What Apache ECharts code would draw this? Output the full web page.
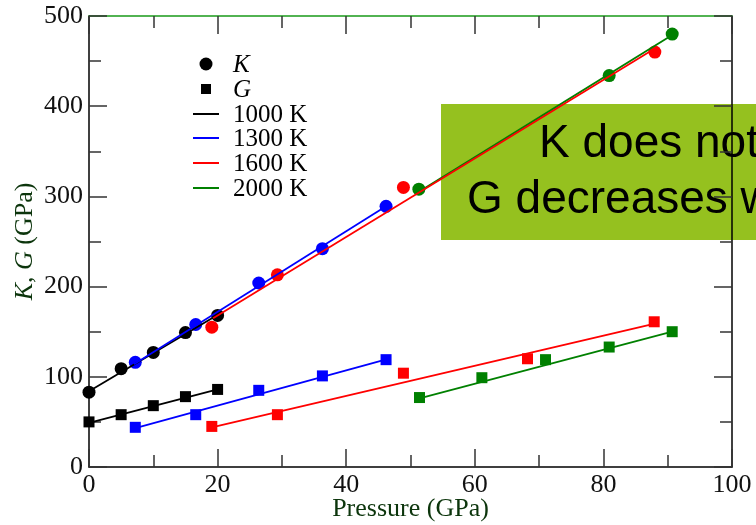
<!DOCTYPE html>
<html>
<head>
<meta charset="utf-8">
<script src="https://cdn.jsdelivr.net/npm/echarts@6/dist/echarts.min.js"></script>
<style>
  html, body { margin: 0; padding: 0; background: #fff; }
  #chart { width: 756px; height: 525px; }
</style>
</head>
<body>
<div id="chart"></div>
<script>
// Bulk (K) and shear (G) moduli versus pressure at four temperatures
const temperatures = ['1000 K', '1300 K', '1600 K', '2000 K'];
const colors = ['#000000', '#0000ff', '#ff0000', '#008000'];

// Pressure (GPa) and moduli (GPa) for each temperature
const p1000 = [0, 5, 10, 15, 20];
const k1000 = [83, 109, 127, 149, 168];
const g1000 = [50, 58, 68, 78, 86];

const p1300 = [7.2, 16.6, 26.4, 36.3, 46.2];
const k1300 = [116, 158, 204, 242, 289];
const g1300 = [44, 58, 85, 101, 119];

const pK1600 = [19.1, 29.3, 48.9, 88.0];
const k1600 = [155, 213, 310, 460];
const pG1600 = [19.1, 29.3, 48.9, 68.2, 87.9];
const g1600 = [45, 58, 104, 120, 161];

const pK2000 = [51.3, 80.9, 90.7];
const k2000 = [308, 434, 480];
const pG2000 = [51.4, 61.1, 71.0, 80.9, 90.7];
const g2000 = [77, 99, 119, 133, 150];

// Linear fits: [start pressure, start value, end pressure, end value]
const fitK1000 = [0, 84, 20.3, 170];
const fitG1000 = [0, 49, 20, 86];
const fitK1300 = [7, 114, 46.2, 289];
const fitG1300 = [7.2, 43, 46.1, 119];
const fitK1600 = [19.3, 165, 88, 464];
const fitG1600 = [19.1, 44, 88, 159];
const fitK2000 = [51.3, 305, 90.7, 479];
const fitG2000 = [51.4, 76, 90.7, 150];

// Axis ticks
const xTicks = [0, 20, 40, 60, 80, 100];
const yTicks = [0, 100, 200, 300, 400, 500];

const pairs = (xs, ys) => xs.map((x, i) => [x, ys[i]]);
const fitLine = f => [[f[0], f[1]], [f[2], f[3]]];

const groups = [
  { c: colors[0], k: pairs(p1000, k1000), g: pairs(p1000, g1000), fk: fitK1000, fg: fitG1000 },
  { c: colors[1], k: pairs(p1300, k1300), g: pairs(p1300, g1300), fk: fitK1300, fg: fitG1300 },
  { c: colors[3], k: pairs(pK2000, k2000), g: pairs(pG2000, g2000), fk: fitK2000, fg: fitG2000 },
  { c: colors[2], k: pairs(pK1600, k1600), g: pairs(pG1600, g1600), fk: fitK1600, fg: fitG1600 }
];

const series = [];
groups.forEach(gr => {
  series.push({ type: 'scatter', data: gr.k, symbol: 'circle', symbolSize: 13,
    itemStyle: { color: gr.c, opacity: 1 }, silent: true });
  series.push({ type: 'scatter', data: gr.g, symbol: 'rect', symbolSize: 11,
    itemStyle: { color: gr.c, opacity: 1 }, silent: true });
  series.push({ type: 'line', data: fitLine(gr.fk), symbol: 'none',
    lineStyle: { color: gr.c, width: 1.8 }, silent: true });
  series.push({ type: 'line', data: fitLine(gr.fg), symbol: 'none',
    lineStyle: { color: gr.c, width: 1.8 }, silent: true });
});

const serif = '"Liberation Serif", "Times New Roman", serif';
const tickCol = '#333';

const axisCommon = {
  axisLine: { show: true, onZero: false, lineStyle: { color: '#000', width: 1.5 } },
  axisTick: { show: true, inside: true, length: 18, lineStyle: { color: tickCol, width: 1.5 } },
  minorTick: { show: true, splitNumber: 2, length: 12, lineStyle: { color: tickCol, width: 1.5 } },
  splitLine: { show: false },
  minorSplitLine: { show: false }
};

const chart = echarts.init(document.getElementById('chart'), null, { renderer: 'canvas' });

const legendRows = [
  { label: 'K', italic: true, kind: 'circle' },
  { label: 'G', italic: true, kind: 'square' },
  { label: temperatures[0], kind: 'line', color: colors[0] },
  { label: temperatures[1], kind: 'line', color: colors[1] },
  { label: temperatures[2], kind: 'line', color: colors[2] },
  { label: temperatures[3], kind: 'line', color: colors[3] }
];
const legendY = [64, 89, 114, 138, 163, 188];
const legendEls = [];
legendRows.forEach((row, i) => {
  const y = legendY[i];
  if (row.kind === 'circle') {
    legendEls.push({ type: 'circle', shape: { cx: 206, cy: y, r: 6.5 }, style: { fill: '#000' } });
  } else if (row.kind === 'square') {
    legendEls.push({ type: 'rect', shape: { x: 201, y: y - 5, width: 10, height: 10 }, style: { fill: '#000' } });
  } else {
    legendEls.push({ type: 'line', shape: { x1: 193, y1: y, x2: 219, y2: y },
      style: { stroke: row.color, lineWidth: 2 } });
  }
  legendEls.push({ type: 'text', x: 233, y: y + 1,
    style: { text: row.label, fill: '#000', font: (row.italic ? 'italic ' : '') + '25px ' + serif,
      align: 'left', verticalAlign: 'middle' } });
});

const boxFont = '46px "Liberation Sans", Arial, sans-serif';

chart.setOption({
  animation: false,
  backgroundColor: '#ffffff',
  grid: { left: 89, right: 24, top: 16, bottom: 58, containLabel: false, outerBoundsMode: 'none' },
  xAxis: [
    Object.assign({}, axisCommon, {
      type: 'value', min: xTicks[0], max: xTicks[xTicks.length - 1], interval: 20, position: 'bottom',
      name: 'Pressure (GPa)', nameLocation: 'middle', nameGap: 29, nameMoveOverlap: false,
      nameTextStyle: { fontFamily: serif, fontSize: 26, color: '#0c350c' },
      axisLabel: { fontFamily: serif, fontSize: 26, color: '#111', margin: 5 }
    }),
    Object.assign({}, axisCommon, {
      type: 'value', min: 0, max: 100, interval: 20, position: 'top',
      axisLine: { show: true, onZero: false, lineStyle: { color: '#1a9a1a', width: 1.5 } },
      axisLabel: { show: false }
    })
  ],
  yAxis: [
    Object.assign({}, axisCommon, {
      type: 'value', min: yTicks[0], max: yTicks[yTicks.length - 1], interval: 100, position: 'left',
      name: '{i|K}, {i|G} (GPa)', nameLocation: 'middle', nameGap: 51, nameMoveOverlap: false,
      nameTextStyle: { fontFamily: serif, fontSize: 26, color: '#0c350c',
        rich: { i: { fontFamily: serif, fontSize: 26, fontStyle: 'italic', color: '#0c350c' } } },
      axisLabel: { fontFamily: serif, fontSize: 26, color: '#111', margin: 6 }
    }),
    Object.assign({}, axisCommon, {
      type: 'value', min: 0, max: 500, interval: 100, position: 'right',
      axisLabel: { show: false }
    })
  ],
  series: series,
  graphic: [
    { type: 'group', z: 100, children: legendEls },
    {
      type: 'group', z: 200,
      children: [
        { type: 'rect', shape: { x: 441, y: 104, width: 340, height: 136 }, style: { fill: '#95c11f' } },
        { type: 'text', x: 539, y: 121,
          style: { text: 'K does not change with T', fill: '#000', font: boxFont,
            align: 'left', verticalAlign: 'top' } },
        { type: 'text', x: 467, y: 177,
          style: { text: 'G decreases with T', fill: '#000', font: boxFont,
            align: 'left', verticalAlign: 'top' } }
      ]
    }
  ]
});
</script>
</body>
</html>
